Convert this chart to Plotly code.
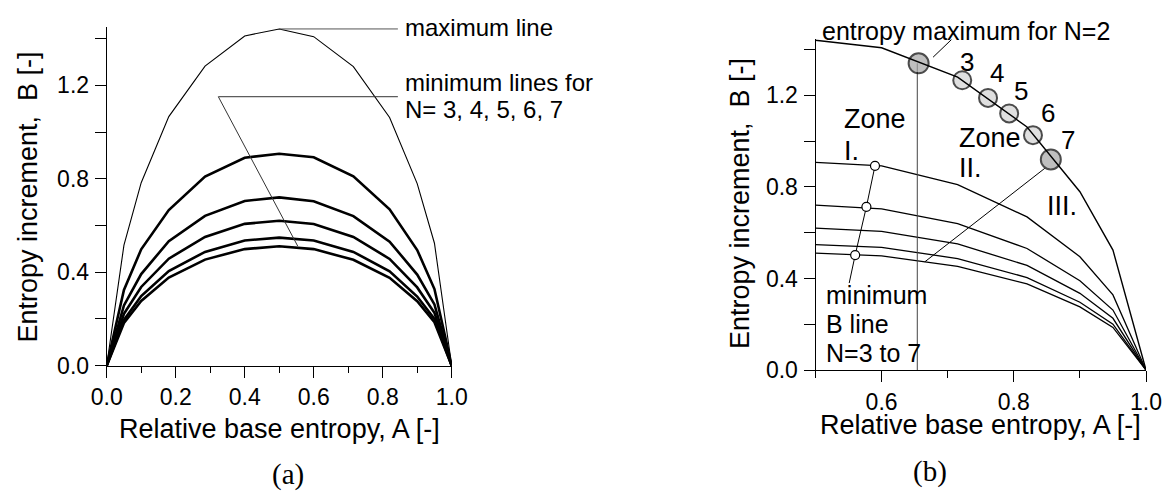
import plotly.graph_objects as go

W, H = 1164, 493

# ---------------- data ----------------
A_grid = [0, 0.05, 0.1, 0.18, 0.285, 0.4, 0.5, 0.6, 0.715, 0.82, 0.9, 0.95, 1.0]
B_max = [0, 0.516, 0.783, 1.066, 1.282, 1.411, 1.441, 1.408, 1.280, 1.062, 0.779, 0.524, 0]
B_N3 = [0, 0.324, 0.498, 0.666, 0.809, 0.890, 0.907, 0.892, 0.810, 0.669, 0.495, 0.328, 0]
B_N4 = [0, 0.258, 0.392, 0.533, 0.641, 0.705, 0.720, 0.704, 0.640, 0.531, 0.390, 0.262, 0]
B_N5 = [0, 0.222, 0.337, 0.458, 0.551, 0.607, 0.620, 0.606, 0.551, 0.457, 0.335, 0.226, 0]
B_N6 = [0, 0.196, 0.298, 0.405, 0.487, 0.536, 0.548, 0.536, 0.487, 0.404, 0.296, 0.200, 0]
B_N7 = [0, 0.183, 0.277, 0.377, 0.454, 0.499, 0.511, 0.499, 0.453, 0.376, 0.276, 0.186, 0]
min_series = [B_N3, B_N4, B_N5, B_N6, B_N7]

# panel (b) entropy maximum points for N = 2..7
N_labels = ["3", "4", "5", "6", "7"]
A_maxpt = [0.656, 0.722, 0.761, 0.793, 0.829, 0.856]
B_maxpt = [1.340, 1.266, 1.189, 1.121, 1.026, 0.920]

# panel (b) minimum-B line points
A_minpt = [0.590, 0.577, 0.560]
B_minpt = [0.892, 0.713, 0.502]
A_minline = [0.590, 0.577, 0.560, 0.551]
B_minline = [0.892, 0.713, 0.502, 0.380]

y_ticks = [0.0, 0.4, 0.8, 1.2]
xa_ticks = [0.0, 0.2, 0.4, 0.6, 0.8, 1.0]
xb_ticks = [0.6, 0.8, 1.0]

FONT = "Liberation Sans, Arial, sans-serif"
SERIF = "Liberation Serif, Times New Roman, serif"


def px(x):
    return x / W


def py(y):
    return 1 - y / H


fig = go.Figure()

# ---------------- panel (a) ----------------
for s in min_series:
    fig.add_trace(go.Scatter(x=A_grid, y=s, mode="lines", xaxis="x", yaxis="y",
                             line=dict(color="black", width=2.6), showlegend=False, hoverinfo="skip"))
fig.add_trace(go.Scatter(x=A_grid, y=B_max, mode="lines", xaxis="x", yaxis="y",
                         line=dict(color="black", width=1.1), showlegend=False, hoverinfo="skip"))
# leader lines (a)
fig.add_trace(go.Scatter(x=[0.5, 0.844], y=[1.441, 1.441], mode="lines", xaxis="x", yaxis="y",
                         line=dict(color="#555555", width=1), showlegend=False, hoverinfo="skip"))
fig.add_trace(go.Scatter(x=[0.844, 0.3236, 0.5536], y=[1.151, 1.151, 0.512], mode="lines",
                         xaxis="x", yaxis="y", line=dict(color="#333333", width=1),
                         showlegend=False, hoverinfo="skip"))

# ---------------- panel (b) ----------------
idx_b = [i for i, a in enumerate(A_grid) if a >= 0.5]
Ab = [A_grid[i] for i in idx_b]
for s in min_series:
    fig.add_trace(go.Scatter(x=Ab, y=[s[i] for i in idx_b], mode="lines", xaxis="x2", yaxis="y2",
                             line=dict(color="black", width=1.3), showlegend=False, hoverinfo="skip"))
# vertical line from N=2 maximum down to axis
fig.add_trace(go.Scatter(x=[0.654, 0.654], y=[0, B_maxpt[0]], mode="lines",
                         xaxis="x2", yaxis="y2", line=dict(color="#444444", width=1),
                         showlegend=False, hoverinfo="skip"))
# leader from circle 7 to N=7 line
fig.add_trace(go.Scatter(x=[0.8468, 0.6655], y=[0.881, 0.473], mode="lines", xaxis="x2", yaxis="y2",
                         line=dict(color="black", width=1), showlegend=False, hoverinfo="skip"))
# leader from text to N=2 circle
fig.add_trace(go.Scatter(x=[0.6779, 0.7058], y=[1.3668, 1.444], mode="lines", xaxis="x2", yaxis="y2",
                         line=dict(color="black", width=1), showlegend=False, hoverinfo="skip"))
# maximum circles
sizes = [20, 18, 18, 18, 18, 20]
fills = ["#a4a4a4", "#d2d2d2", "#d2d2d2", "#d2d2d2", "#d2d2d2", "#a4a4a4"]
fig.add_trace(go.Scatter(x=A_maxpt, y=B_maxpt, mode="markers", xaxis="x2", yaxis="y2",
                         marker=dict(size=sizes, color=fills, line=dict(color="black", width=2)),
                         showlegend=False, hoverinfo="skip", cliponaxis=False))
# max line on top
fig.add_trace(go.Scatter(x=Ab, y=[B_max[i] for i in idx_b], mode="lines", xaxis="x2", yaxis="y2",
                         line=dict(color="black", width=1.4), showlegend=False, hoverinfo="skip"))
# minimum B line
fig.add_trace(go.Scatter(x=A_minline, y=B_minline, mode="lines", xaxis="x2", yaxis="y2",
                         line=dict(color="black", width=1), showlegend=False, hoverinfo="skip"))
fig.add_trace(go.Scatter(x=A_minpt, y=B_minpt, mode="markers", xaxis="x2", yaxis="y2",
                         marker=dict(size=9, color="white", line=dict(color="black", width=1.2)),
                         showlegend=False, hoverinfo="skip"))

axis_common = dict(showline=True, linecolor="black", linewidth=1, ticks="outside", tickcolor="black",
                   tickwidth=1, showgrid=False, zeroline=False, mirror=False, automargin=False,
                   tickfont=dict(family=FONT, size=23, color="black"))

fig.update_layout(
    width=W, height=H, margin=dict(l=0, r=0, t=0, b=0, pad=0, autoexpand=False),
    paper_bgcolor="white", plot_bgcolor="white", showlegend=False,
    xaxis=dict(domain=[px(106.7), px(451.7)], range=[0, 1], anchor="y",
               tickvals=xa_ticks, tickformat=".1f", ticklen=11, ticklabelstandoff=0,
               minor=dict(ticks="outside", dtick=0.1, tick0=0, ticklen=6, tickcolor="black", showgrid=False),
               **axis_common),
    yaxis=dict(domain=[py(365.7), py(27.3)], range=[0, 1.448], anchor="x",
               tickvals=y_ticks, tickformat=".1f", ticklen=11, ticklabelstandoff=1,
               minor=dict(ticks="outside", dtick=0.2, tick0=0, ticklen=11, tickcolor="black", showgrid=False),
               **axis_common),
    xaxis2=dict(domain=[px(815.5), px(1146)], range=[0.5, 1.0], anchor="y2",
                tickvals=xb_ticks, tickformat=".1f", ticklen=11, ticklabelstandoff=0,
                minor=dict(ticks="outside", dtick=0.1, tick0=0.5, ticklen=7, tickcolor="black", showgrid=False),
                **axis_common),
    yaxis2=dict(domain=[py(370), py(39.3)], range=[0, 1.445], anchor="x2",
                tickvals=y_ticks, tickformat=".1f", ticklen=11, ticklabelstandoff=1,
                minor=dict(ticks="outside", dtick=0.2, tick0=0, ticklen=11, tickcolor="black", showgrid=False),
                **axis_common),
)

ann = []


def text(x, y, s, size, xanchor="left", family=FONT, angle=0):
    ann.append(dict(x=px(x), y=py(y), xref="paper", yref="paper", text=s, showarrow=False,
                    xanchor=xanchor, yanchor="middle", textangle=angle,
                    font=dict(family=family, size=size, color="black")))


# axis titles
text(279, 429, "Relative base entropy, A [-]", 27, "center")
text(980, 425, "Relative base entropy, A [-]", 27, "center")
text(27.5, 197, "Entropy increment,  B [-]", 27, "center", angle=-90)
text(740, 204, "Entropy increment,  B [-]", 27, "center", angle=-90)
# panel labels
text(288, 474, "(a)", 29, "center", family=SERIF)
text(930, 471, "(b)", 29, "center", family=SERIF)

# panel (a) annotations
text(403, 28, "maximum line", 24)
text(403, 83, "minimum lines for", 24)
text(403, 109, "N= 3, 4, 5, 6, 7", 24)

# panel (b) annotations
text(820, 31, "entropy maximum for N=2", 25)
num_pos = [(967, 62), (997, 73), (1021, 90.5), (1048, 113), (1068, 139.5)]
for lab, (x, y) in zip(N_labels, num_pos):
    text(x, y, lab, 26, "center")
text(841.7, 119.5, "Zone", 27)
text(841.7, 151, "I.", 27)
text(957.3, 137.5, "Zone", 27)
text(957.3, 168.5, "II.", 27)
text(1045, 206, "III.", 27)
text(824, 295, "minimum", 25)
text(824, 324, "B line", 25)
text(824, 352.5, "N=3 to 7", 25)

fig.update_layout(annotations=ann)

fig.write_html("out.html", config={"displayModeBar": False},
               post_script="document.body.style.margin='0px';document.body.style.overflow='hidden';")
